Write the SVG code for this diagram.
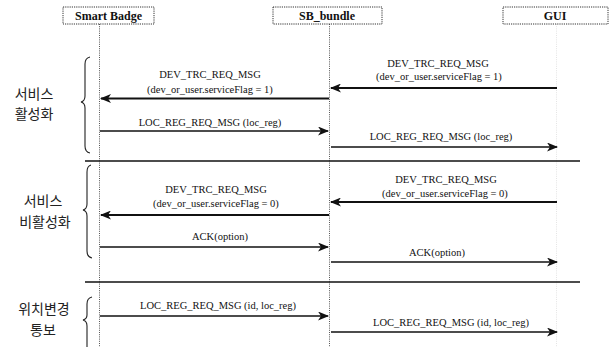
<svg xmlns="http://www.w3.org/2000/svg" width="609" height="347" viewBox="0 0 609 347">
<style>
.box{fill:#fff;stroke:#333;stroke-width:1;stroke-dasharray:1.2 1}
.life{stroke:#555;stroke-width:1;stroke-dasharray:1 1.2;fill:none}
.hdr{font-family:"Liberation Serif",serif;font-weight:bold;font-size:12px;text-anchor:middle;fill:#111}
.msg{font-family:"Liberation Serif",serif;font-size:10.5px;text-anchor:middle;fill:#111}
.kr{font-family:"Noto Sans CJK KR","Noto Sans CJK SC",sans-serif;font-size:14px;text-anchor:middle;fill:#222}
.thick{stroke:#111;stroke-width:2;fill:none;marker-end:url(#ah)}
.thin{stroke:#111;stroke-width:1.3;fill:none;marker-end:url(#ah)}
.sep{stroke:#111;stroke-width:1.5}
.brace{stroke:#222;stroke-width:1.1;fill:none}
</style>
<defs>
<marker id="ah" viewBox="0 0 11 9" markerWidth="11" markerHeight="9" refX="10" refY="4.5" orient="auto" markerUnits="userSpaceOnUse">
<path d="M0,0 L11,4.5 L0,9 L3,4.5 z" fill="#111"/>
</marker>
</defs>
<rect width="609" height="347" fill="#fff"/>

<g id="node-smart-badge">
<line class="life" x1="99.5" y1="24" x2="99.5" y2="347"/>
<rect class="box" x="63" y="7" width="91" height="17"/>
<text class="hdr" x="108.5" y="20">Smart Badge</text>
</g>
<g id="node-sb-bundle">
<line class="life" x1="329.5" y1="24" x2="329.5" y2="347"/>
<rect class="box" x="273" y="7" width="109" height="17"/>
<text class="hdr" x="327" y="20">SB_bundle</text>
</g>
<g id="node-gui">
<line class="life" x1="556.5" y1="24" x2="556.5" y2="347" style="stroke:#e4e4e4"/>
<rect class="box" x="503" y="7" width="105" height="17"/>
<text class="hdr" x="555" y="20">GUI</text>
</g>

<g id="sections">
<line class="sep" x1="85" y1="161" x2="580" y2="161"/>
<line class="sep" x1="85" y1="282" x2="580" y2="282"/>
<path class="brace" d="M90,57 Q85,58 85,64 L85,96 Q85,101 81,102 Q85,103 85,108 L85,146 Q85,152 90,153"/>
<path class="brace" d="M91,165 Q87,166 87,172 L87,204 Q87,209 83,210 Q87,211 87,216 L87,251 Q87,257 92,258"/>
<path class="brace" d="M92,297 Q87,298 87,304 L87,315 Q87,319 83,320 Q87,321 87,326 L87,347"/>
<text class="kr" x="34" y="99">서비스</text>
<text class="kr" x="34" y="119">활성화</text>
<text class="kr" x="43" y="206">서비스</text>
<text class="kr" x="45" y="227">비활성화</text>
<text class="kr" x="44" y="314">위치변경</text>
<text class="kr" x="43" y="335">통보</text>
</g>

<g id="connectors">
<line class="thick" x1="557" y1="88" x2="331" y2="88"/>
<text class="msg" x="438" y="67">DEV_TRC_REQ_MSG</text>
<text class="msg" x="439" y="80">(dev_or_user.serviceFlag = 1)</text>

<line class="thick" x1="329" y1="98.5" x2="101" y2="98.5"/>
<text class="msg" x="210" y="78">DEV_TRC_REQ_MSG</text>
<text class="msg" x="210" y="93">(dev_or_user.serviceFlag = 1)</text>

<line class="thin" x1="100" y1="131" x2="328" y2="131"/>
<text class="msg" x="210" y="126">LOC_REG_REQ_MSG (loc_reg)</text>

<line class="thin" x1="331" y1="147" x2="557" y2="147"/>
<text class="msg" x="441" y="140">LOC_REG_REQ_MSG (loc_reg)</text>

<line class="thick" x1="557" y1="202" x2="331" y2="202"/>
<text class="msg" x="446" y="183">DEV_TRC_REQ_MSG</text>
<text class="msg" x="445" y="197">(dev_or_user.serviceFlag = 0)</text>

<line class="thick" x1="329" y1="215" x2="101" y2="215"/>
<text class="msg" x="216" y="193">DEV_TRC_REQ_MSG</text>
<text class="msg" x="216" y="207">(dev_or_user.serviceFlag = 0)</text>

<line class="thin" x1="100" y1="247" x2="328" y2="247"/>
<text class="msg" x="220" y="240">ACK(option)</text>

<line class="thin" x1="331" y1="262" x2="557" y2="262"/>
<text class="msg" x="437" y="256">ACK(option)</text>

<line class="thin" x1="100" y1="316" x2="328" y2="316"/>
<text class="msg" x="218" y="309">LOC_REG_REQ_MSG (id, loc_reg)</text>

<line class="thin" x1="331" y1="332" x2="557" y2="332"/>
<text class="msg" x="451" y="326">LOC_REG_REQ_MSG (id, loc_reg)</text>
</g>
</svg>
